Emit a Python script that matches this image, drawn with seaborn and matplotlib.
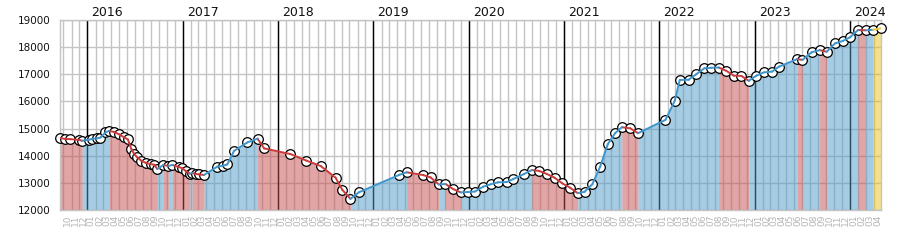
import matplotlib
matplotlib.use("Agg")
import matplotlib.pyplot as plt
import matplotlib.dates as mdates
import matplotlib.ticker as mticker
import seaborn as sns
import pandas as pd

# ---- data ----
dates = [
    "2015-09-19", "2015-10-07", "2015-10-28", "2015-12-01", "2015-12-12",
    "2016-01-06", "2016-01-19", "2016-02-07", "2016-02-20", "2016-03-10",
    "2016-03-23", "2016-04-11", "2016-05-01", "2016-05-20", "2016-06-04",
    "2016-06-17", "2016-06-29", "2016-07-10", "2016-07-25", "2016-08-11",
    "2016-08-30", "2016-09-12", "2016-09-25", "2016-10-18", "2016-11-06",
    "2016-11-21", "2016-12-17", "2016-12-30", "2017-01-11", "2017-01-28",
    "2017-02-05", "2017-02-19", "2017-03-04", "2017-03-23", "2017-05-13",
    "2017-06-04", "2017-06-20", "2017-07-16", "2017-09-05", "2017-10-14",
    "2017-11-08", "2018-02-17", "2018-04-19", "2018-06-13", "2018-08-09",
    "2018-09-04", "2018-10-05", "2018-11-06", "2019-04-09", "2019-05-08",
    "2019-07-10", "2019-08-08", "2019-09-09", "2019-10-04", "2019-11-03",
    "2019-12-01", "2019-12-28", "2020-01-25", "2020-02-26", "2020-03-26",
    "2020-04-23", "2020-05-26", "2020-06-20", "2020-08-01", "2020-08-30",
    "2020-09-27", "2020-10-26", "2020-11-25", "2020-12-25", "2021-01-24",
    "2021-02-22", "2021-03-20", "2021-04-19", "2021-05-19", "2021-06-17",
    "2021-07-15", "2021-08-10", "2021-09-11", "2021-10-11", "2022-01-24",
    "2022-03-01", "2022-03-20", "2022-04-23", "2022-05-22", "2022-06-22",
    "2022-07-19", "2022-08-16", "2022-09-14", "2022-10-13", "2022-11-11",
    "2022-12-09", "2023-01-08", "2023-02-05", "2023-03-09", "2023-04-04",
    "2023-06-13", "2023-07-03", "2023-08-07", "2023-09-07", "2023-10-04",
    "2023-11-05", "2023-12-05", "2024-01-01", "2024-02-01", "2024-03-01",
    "2024-03-30", "2024-04-28",
]
prices = [
    14650, 14620, 14610, 14580, 14550,
    14590, 14620, 14640, 14670, 14860,
    14910, 14880, 14790, 14680, 14600,
    14250, 14050, 13940, 13820, 13740,
    13690, 13670, 13510, 13660, 13620,
    13660, 13580, 13540, 13440, 13340,
    13370, 13330, 13310, 13290, 13600,
    13630, 13680, 14180, 14490, 14630,
    14270, 14060, 13820, 13620, 13190,
    12740, 12410, 12650, 13290, 13390,
    13290, 13200, 12940, 12960, 12770,
    12650, 12660, 12680, 12860, 12950,
    13020, 13030, 13140, 13330, 13470,
    13440, 13330, 13190, 12980, 12820,
    12620, 12670, 12950, 13600, 14420,
    14830, 15050, 15010, 14830, 15320,
    16030, 16790, 16800, 17000, 17220,
    17240, 17250, 17130, 16950, 16940,
    16760, 16950, 17070, 17100, 17280,
    17560, 17530, 17810, 17890, 17830,
    18140, 18230, 18360, 18630, 18620,
    18640, 18690,
]
year_labels = ["2016", "2017", "2018", "2019", "2020", "2021", "2022", "2023", "2024"]
y_ticks = [12000, 13000, 14000, 15000, 16000, 17000, 18000, 19000]

# ---- styles ----
line_colors = {"up": "#3d95cc", "down": "#cc3a3a", "latest": "#e8c840"}
fill_colors = {"up": "#4d9bc7", "down": "#c74d4d", "latest": "#e6c21e"}
grid_color = "#c4c4c4"

sns.set_theme(style="white")
plt.rcParams["font.family"] = ["DejaVu Sans"]

df = pd.DataFrame({"date": pd.to_datetime(dates), "price": prices})

# segments between consecutive points, classified by direction
rows = []
kinds = []
n = len(df)
for i in range(n - 1):
    p0, p1 = df.price[i], df.price[i + 1]
    if i == n - 2:
        k = "latest"
    else:
        k = "up" if p1 > p0 else "down"
    kinds.append(k)
    rows.append({"date": df.date[i], "price": p0, "seg": i, "kind": k})
    rows.append({"date": df.date[i + 1], "price": p1, "seg": i, "kind": k})
seg_df = pd.DataFrame(rows)

fig = plt.figure(figsize=(9, 2.5), dpi=100)
ax = fig.add_axes([60.3 / 900, 40 / 250, (880.7 - 60.3) / 900, 190 / 250])
ax.set_axisbelow(True)

# fills: merge runs of same kind
ymin, ymax = y_ticks[0], y_ticks[-1]
start = 0
for i in range(1, len(kinds) + 1):
    if i == len(kinds) or kinds[i] != kinds[start]:
        sub = df.iloc[start:i + 1]
        ax.fill_between(sub.date, sub.price, ymin, color=fill_colors[kinds[start]],
                        alpha=0.5, linewidth=0, zorder=2)
        start = i

# year lines
for y in year_labels:
    d = pd.Timestamp(f"{y}-01-01")
    ax.axvline(d, color="black", linewidth=1, zorder=1.5)
    ax.annotate(y, xy=(d, 1), xycoords=("data", "axes fraction"),
                xytext=(3, 3), textcoords="offset points",
                ha="left", va="baseline", fontsize=9, color="#111111",
                annotation_clip=False)

sns.scatterplot(data=df, x="date", y="price", marker="o", s=48,
                color="white", edgecolor="black", linewidth=0.9,
                ax=ax, zorder=4, clip_on=False)

sns.lineplot(data=seg_df, x="date", y="price", hue="kind", units="seg",
             estimator=None, palette=line_colors, legend=False,
             linewidth=1.4, ax=ax, zorder=5)

ax.set_xlim(df.date.iloc[0], df.date.iloc[-1])
ax.set_ylim(ymin, ymax)
ax.set_yticks(y_ticks)
ax.set_yticklabels([str(v) for v in y_ticks])

ax.xaxis.set_major_locator(mdates.MonthLocator())
ax.xaxis.set_major_formatter(mticker.NullFormatter())
ax.xaxis.set_minor_locator(mdates.MonthLocator(bymonthday=16))
ax.xaxis.set_minor_formatter(mdates.DateFormatter("%m"))
ax.tick_params(axis="x", which="both", length=0)
ax.tick_params(axis="x", which="minor", labelrotation=90, labelsize=6.5,
               labelcolor="#b5b5b5", pad=3)
ax.tick_params(axis="y", length=0, labelsize=7.5, pad=7, labelcolor="#111111")

ax.grid(True, which="major", color=grid_color, linewidth=1)
for s in ax.spines.values():
    s.set_color(grid_color)
    s.set_linewidth(1)

ax.set_xlabel("")
ax.set_ylabel("")

fig.savefig("out.png", dpi=100)
